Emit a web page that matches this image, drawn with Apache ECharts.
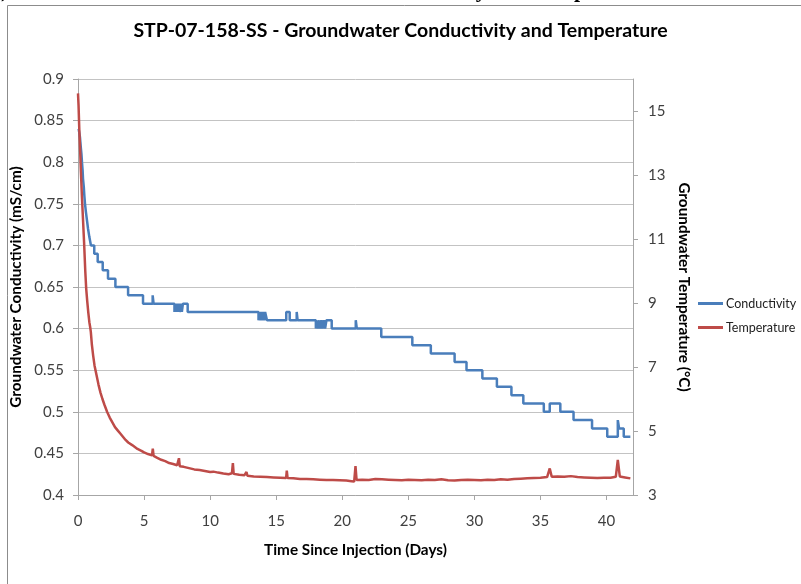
<!DOCTYPE html>
<html><head><meta charset="utf-8">
<script src="https://cdn.jsdelivr.net/npm/echarts@6/dist/echarts.min.js"></script>
<style>html,body{margin:0;padding:0;background:#fff}#c{width:801px;height:584px}</style>
</head><body><div id="c"></div>
<script>
// Conductivity (mS/cm): step changes, value holds from that day until the next
const condDays = [0.05,0.15,0.20,0.26,0.30,0.35,0.38,0.44,0.48,0.53,0.60,0.68,0.76,0.86,0.98,1.23,1.49,1.87,2.27,2.83,3.79,4.92,5.65,5.72,
  7.30,7.36,7.42,7.50,7.56,7.64,7.70,7.80,7.86,7.94,8.30,
  13.66,13.72,13.80,13.86,13.95,14.02,14.10,14.16,14.30,15.76,16.02,16.55,16.62,
  18.00,18.08,18.15,18.25,18.32,18.42,18.50,18.62,18.70,18.80,19.20,21.02,21.10,22.95,
  25.3,26.7,28.5,29.4,30.6,31.7,32.8,33.7,35.25,35.7,36.5,37.5,38.9,40.05,40.85,40.95,41.3,41.8];
const condValues = [0.84,0.83,0.82,0.81,0.80,0.79,0.78,0.77,0.76,0.75,0.74,0.73,0.72,0.71,0.70,0.69,0.68,0.67,0.66,0.65,0.64,0.63,0.64,0.63,
  0.62,0.63,0.62,0.63,0.62,0.63,0.62,0.63,0.62,0.63,0.62,
  0.61,0.62,0.61,0.62,0.61,0.62,0.61,0.62,0.61,0.62,0.61,0.62,0.61,
  0.60,0.61,0.60,0.61,0.60,0.61,0.60,0.61,0.60,0.61,0.60,0.61,0.60,0.59,
  0.58,0.57,0.56,0.55,0.54,0.53,0.52,0.51,0.50,0.51,0.50,0.49,0.48,0.47,0.49,0.48,0.47,0.47];

// Temperature (°C)
const tempDays = [0,0.04,0.10,0.16,0.22,0.30,0.38,0.46,0.55,0.62,0.70,0.78,0.86,0.92,0.97,1.05,1.15,1.25,1.40,1.55,1.70,1.85,2.0,2.2,2.4,2.6,2.8,3.0,3.2,3.4,3.6,3.8,3.9,4.1,4.3,4.5,4.8,5.0,5.3,5.6,5.66,5.72,6.0,6.3,6.6,6.9,7.2,7.5,7.64,7.70,8.0,8.4,8.8,9.2,9.6,10.0,10.25,10.6,11.0,11.4,11.65,11.72,11.78,12.2,12.6,12.75,12.82,13.3,13.8,14.3,14.8,15.3,15.75,15.8,15.86,16.3,16.8,17.3,17.8,18.3,18.8,19.3,19.8,20.3,20.7,20.9,21.0,21.08,21.5,22.0,22.5,22.6,23.0,23.5,24.0,24.5,25.0,25.5,26.0,26.5,27.0,27.5,28.0,28.5,29.0,29.5,30.0,30.5,31.0,31.5,32.0,32.5,33.0,33.5,34.0,34.5,35.0,35.5,35.7,35.85,36.3,36.8,37.3,37.8,38.3,38.8,39.3,39.8,40.3,40.7,40.85,41.0,41.4,41.8];
const tempValues = [15.55,15.2,14.4,13.8,13.1,12.3,11.6,10.9,10.0,9.45,9.05,8.7,8.4,8.25,8.1,7.7,7.35,7.05,6.75,6.45,6.2,6.0,5.82,5.6,5.42,5.27,5.12,5.02,4.92,4.82,4.72,4.64,4.66,4.56,4.5,4.44,4.38,4.33,4.28,4.24,4.45,4.22,4.16,4.1,4.06,4.0,3.97,3.93,4.15,3.9,3.88,3.84,3.8,3.78,3.75,3.72,3.73,3.7,3.67,3.65,3.68,4.0,3.66,3.63,3.62,3.72,3.6,3.58,3.57,3.56,3.55,3.54,3.53,3.76,3.53,3.52,3.5,3.5,3.49,3.48,3.47,3.47,3.46,3.45,3.43,3.42,3.9,3.47,3.48,3.47,3.5,3.44,3.49,3.48,3.47,3.46,3.48,3.47,3.46,3.48,3.47,3.49,3.46,3.45,3.47,3.48,3.47,3.46,3.48,3.47,3.49,3.48,3.5,3.51,3.52,3.53,3.54,3.56,3.83,3.57,3.58,3.57,3.59,3.56,3.55,3.54,3.53,3.54,3.54,3.57,4.1,3.58,3.55,3.52];

const xTicks = [0,5,10,15,20,25,30,35,40];
const tempTicks = [3,5,7,9,11,13,15];

const condData = condDays.map((d,i)=>[d,condValues[i]]);
const tempData = tempDays.map((d,i)=>[d,tempValues[i]]);

const FONT = 'Lato';
const chart = echarts.init(document.getElementById('c'), null, {renderer:'canvas'});
chart.setOption({
  animation:false,
  backgroundColor:'#fff',
  title:{
    text:'STP-07-158-SS - Groundwater Conductivity and Temperature',
    left:'center', top:16,
    textStyle:{fontFamily:FONT,fontSize:19.5,fontWeight:'bold',color:'#000'}
  },
  graphic:[
    {type:'rect',shape:{x:7.5,y:5.5,width:900,height:700},style:{fill:'none',stroke:'#8c8c8c',lineWidth:1},silent:true},
    {type:'text',x:231,y:-20,style:{text:'Groundwater Conductivity and Temperature',font:'bold 22px "Liberation Serif"',fill:'#000'},silent:true},
    {type:'text',x:1,y:-20,style:{text:')',font:'bold 22px "Liberation Serif"',fill:'#000'},silent:true}
  ],
  legend:{
    orient:'vertical', left:693, top:292, itemWidth:25, itemHeight:3, itemGap:11, icon:'rect',
    textStyle:{fontFamily:FONT,fontSize:12.5,color:'#222',padding:[0,0,0,-2]},
    data:['Conductivity','Temperature']
  },
  grid:{left:78,right:168,top:79,bottom:89,containLabel:false},
  xAxis:{
    type:'value',min:0,max:42,interval:5,
    name:'Time Since Injection (Days)',nameLocation:'middle',nameGap:48,
    nameTextStyle:{fontFamily:FONT,fontSize:15.3,fontWeight:'bold',color:'#000'},
    axisLine:{show:true,lineStyle:{color:'#a6a6a6',width:1}},
    axisTick:{show:true,length:5,lineStyle:{color:'#a6a6a6'},customValues:xTicks},
    axisLabel:{fontFamily:FONT,fontSize:15,color:'#404040',margin:19,customValues:xTicks},
    splitLine:{show:false}
  },
  yAxis:[{
    type:'value',min:0.4,max:0.9,interval:0.05,position:'left',
    name:'Groundwater Conductivity (mS/cm)',nameLocation:'middle',nameGap:48,nameRotate:90,
    nameTextStyle:{fontFamily:FONT,fontSize:15.3,fontWeight:'bold',color:'#000'},
    axisLine:{show:true,lineStyle:{color:'#a6a6a6',width:1}},
    axisTick:{show:true,length:5,lineStyle:{color:'#a6a6a6'}},
    axisLabel:{fontFamily:FONT,fontSize:15,color:'#404040',margin:14},
    splitLine:{show:true,lineStyle:{color:'#c3c3c3',width:1}}
  },{
    type:'value',min:3,max:16,interval:1,position:'right',
    name:'Groundwater Temperature (°C)',nameLocation:'middle',nameGap:42,nameRotate:-90,
    nameTextStyle:{fontFamily:FONT,fontSize:15.3,fontWeight:'bold',color:'#000'},
    axisLine:{show:true,lineStyle:{color:'#a6a6a6',width:1}},
    axisTick:{show:true,length:5,lineStyle:{color:'#a6a6a6'},customValues:tempTicks},
    axisLabel:{fontFamily:FONT,fontSize:15,color:'#404040',margin:15,customValues:tempTicks},
    splitLine:{show:false}
  }],
  series:[{
    name:'Conductivity',type:'line',step:'end',data:condData,yAxisIndex:0,
    showSymbol:false,symbol:'none',
    lineStyle:{color:'#4a7ebb',width:2.5},itemStyle:{color:'#4a7ebb'}
  },{
    name:'Temperature',type:'line',data:tempData,yAxisIndex:1,
    showSymbol:false,symbol:'none',
    lineStyle:{color:'#be4b48',width:2.5},itemStyle:{color:'#be4b48'}
  }]
});
</script>
</body></html>
